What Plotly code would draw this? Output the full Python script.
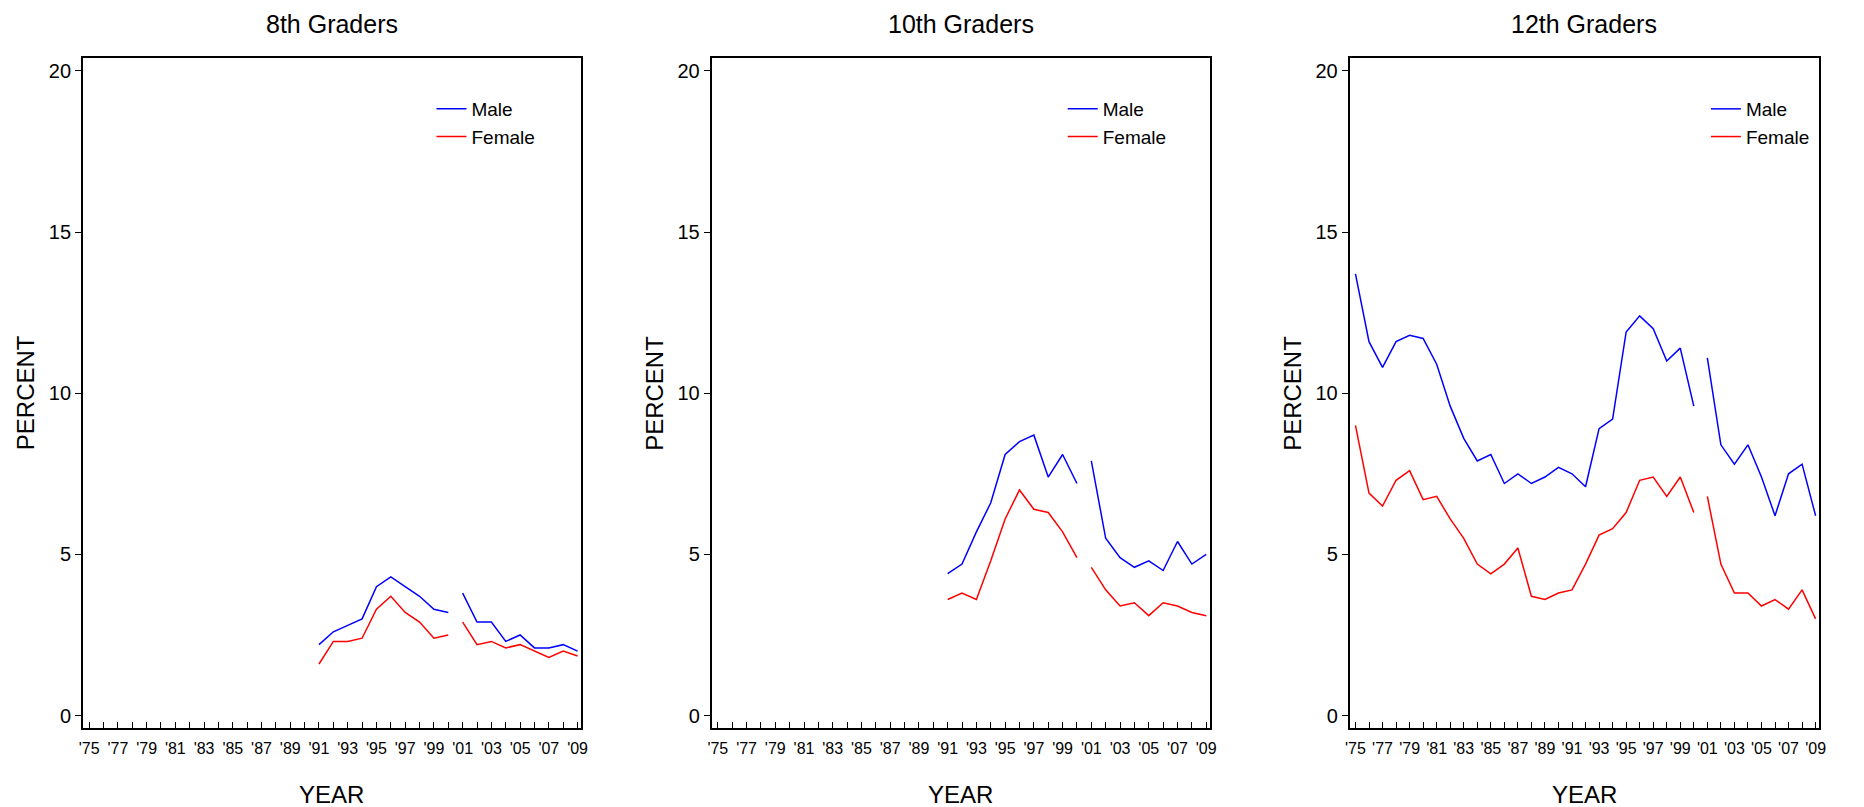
import plotly.graph_objects as go

# survey years and x tick labels (every other year labelled)
years = list(range(1975, 2010))
year_labels = ["'%02d" % (y % 100) if (y - 1975) % 2 == 0 else "" for y in years]
y_ticks = [0, 5, 10, 15, 20]

panel_titles = ["8th Graders", "10th Graders", "12th Graders"]

# 8th and 10th graders were first surveyed in 1991
g8_years = list(range(1991, 2010))
g8_male = [2.2, 2.6, 2.8, 3.0, 4.0, 4.3, 4.0, 3.7, 3.3, 3.2,
           3.8, 2.9, 2.9, 2.3, 2.5, 2.1, 2.1, 2.2, 2.0]
g8_female = [1.6, 2.3, 2.3, 2.4, 3.3, 3.7, 3.2, 2.9, 2.4, 2.5,
             2.9, 2.2, 2.3, 2.1, 2.2, 2.0, 1.8, 2.0, 1.85]

g10_years = list(range(1991, 2010))
g10_male = [4.4, 4.7, 5.7, 6.6, 8.1, 8.5, 8.7, 7.4, 8.1, 7.2,
            7.9, 5.5, 4.9, 4.6, 4.8, 4.5, 5.4, 4.7, 5.0]
g10_female = [3.6, 3.8, 3.6, 4.8, 6.1, 7.0, 6.4, 6.3, 5.7, 4.9,
              4.6, 3.9, 3.4, 3.5, 3.1, 3.5, 3.4, 3.2, 3.1]

g12_years = list(range(1975, 2010))
g12_male = [13.7, 11.6, 10.8, 11.6, 11.8, 11.7, 10.9, 9.6, 8.6, 7.9,
            8.1, 7.2, 7.5, 7.2, 7.4, 7.7, 7.5, 7.1, 8.9, 9.2,
            11.9, 12.4, 12.0, 11.0, 11.4, 9.6,
            11.1, 8.4, 7.8, 8.4, 7.4, 6.2, 7.5, 7.8, 6.2]
g12_female = [9.0, 6.9, 6.5, 7.3, 7.6, 6.7, 6.8, 6.1, 5.5, 4.7,
              4.4, 4.7, 5.2, 3.7, 3.6, 3.8, 3.9, 4.7, 5.6, 5.8,
              6.3, 7.3, 7.4, 6.8, 7.4, 6.3,
              6.8, 4.7, 3.8, 3.8, 3.4, 3.6, 3.3, 3.9, 3.0]

BREAK_YEAR = 2001  # questionnaire change: series drawn as two segments

W, H = 1864, 807
FONT = "Liberation Sans, Arial, sans-serif"


def with_break(xs, ys):
    k = xs.index(BREAK_YEAR)
    return xs[:k] + [None] + xs[k:], ys[:k] + [None] + ys[k:]


def px_x(p):
    return p / W


def px_y(p):
    return 1 - p / H


panels = [
    (g8_years, g8_male, g8_female),
    (g10_years, g10_male, g10_female),
    (g12_years, g12_male, g12_female),
]
x_domains = [(79.3, 580.3), (711.7, 1212.7), (1353.5, 1825.5)]
legend_x = [430, 1065, 1712]

fig = go.Figure()
layout = dict(
    width=W, height=H, autosize=False,
    margin=dict(l=0, r=0, t=0, b=0),
    paper_bgcolor="white", plot_bgcolor="white",
    font=dict(family=FONT, color="black"),
    annotations=[],
)

for i, (yrs, male, female) in enumerate(panels):
    n = "" if i == 0 else str(i + 1)
    leg = "legend" + n
    for name, vals, color in [("Male", male, "#0000FF"), ("Female", female, "#FF0000")]:
        xs, ys = with_break(yrs, vals)
        fig.add_trace(go.Scatter(
            x=xs, y=ys, mode="lines", name=name,
            line=dict(color=color, width=1.5),
            xaxis="x" + n, yaxis="y" + n, legend=leg,
            connectgaps=False,
        ))

    x0, x1 = x_domains[i]
    layout["xaxis" + n] = dict(
        domain=[px_x(x0), px_x(x1)], anchor="y" + n,
        range=[1974.56, 2009.23],
        tickvals=years, ticktext=year_labels,
        ticks="inside", ticklen=6, tickwidth=1, tickcolor="black",
        tickfont=dict(size=16), ticklabelstandoff=6,
        showline=True, mirror=True, linecolor="black", linewidth=1.5,
        showgrid=False, zeroline=False,
    )
    layout["yaxis" + n] = dict(
        domain=[px_y(727.5), px_y(58)], anchor="x" + n,
        range=[-0.37, 20.4],
        tickvals=y_ticks,
        ticks="outside", ticklen=6, tickwidth=1, tickcolor="black",
        tickfont=dict(size=20),
        showline=True, mirror=True, linecolor="black", linewidth=1.5,
        showgrid=False, zeroline=False,
    )
    layout[leg] = dict(
        x=px_x(legend_x[i]), y=px_y(90), xanchor="left", yanchor="top",
        bgcolor="rgba(0,0,0,0)", font=dict(size=19),
        itemwidth=30, tracegroupgap=0,
    )

    cx = (x0 + x1) / 2
    layout["annotations"] += [
        dict(text=panel_titles[i], x=px_x(cx), y=px_y(24), xref="paper", yref="paper",
             xanchor="center", yanchor="middle", showarrow=False, font=dict(size=25)),
        dict(text="YEAR", x=px_x(cx), y=px_y(794), xref="paper", yref="paper",
             xanchor="center", yanchor="middle", showarrow=False, font=dict(size=24)),
        dict(text="PERCENT", x=px_x(x0 - 58), y=px_y(393), xref="paper", yref="paper",
             xanchor="center", yanchor="middle", showarrow=False, textangle=-90,
             font=dict(size=24)),
    ]

fig.update_layout(**layout)
# the page's default body margin would shift the figure by 8px
fig.write_html("out.html", config={"displayModeBar": False},
               post_script="document.body.style.margin='0';")
